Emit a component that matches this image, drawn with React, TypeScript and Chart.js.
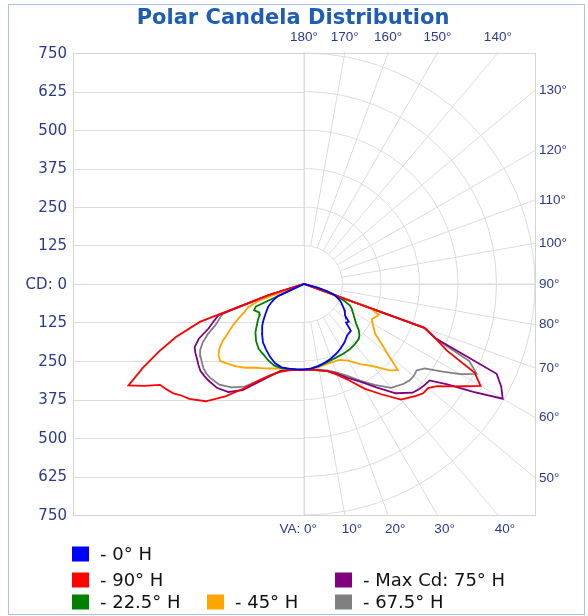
import React, { useEffect, useRef } from 'react';
import { Chart, registerables } from 'chart.js';

Chart.register(...registerables);

// Vertical angles (degrees from nadir) at which candela values are read
const VA_ANGLES = [0, 5, 10, 15, 20, 25, 30, 35, 40, 45, 47.5, 50, 52.5, 55, 57.5, 60, 62.5, 65, 67.5, 70, 72.5, 75, 77.5];

// Candela values – left half and right half of each plane
const H0_LEFT = [278, 278, 279, 280, 274, 261, 246, 232, 212, 192, 180, 168, 157, 147, 138, 125, 110, 95, 0, 0, 0, 0, 0];
const H0_RIGHT = [278, 275, 270, 264, 257, 249, 240, 230, 218, 215, 185, 190, 168, 162, 155, 146, 138, 130, 118, 105, 78, 45, 0];
const H90_LEFT = [278, 280, 285, 295, 315, 345, 392, 445, 497, 527, 537, 553, 562, 571, 616, 658, 590, 520, 450, 360, 120, 0, 0];
const H90_RIGHT = [278, 280, 285, 293, 313, 345, 392, 437, 490, 514, 525, 526, 545, 580, 618, 662, 625, 512, 462, 416, 0, 0, 0];
const H22_LEFT = [278, 279, 281, 283, 282, 274, 264, 257, 242, 223, 210, 198, 188, 175, 172, 178, 183, 172, 0, 0, 0, 0, 0];
const H22_RIGHT = [278, 276, 272, 266, 262, 260, 260, 259, 256, 252, 244, 232, 214, 202, 192, 183, 175, 164, 140, 113, 80, 45, 0];
const H45_LEFT = [278, 279, 281, 284, 292, 302, 314, 332, 348, 362, 369, 362, 347, 322, 290, 265, 238, 212, 196, 150, 0, 0, 0];
const H45_RIGHT = [278, 277, 274, 270, 270, 272, 287, 318, 348, 398, 413, 356, 316, 282, 269, 257, 248, 255, 263, 230, 0, 0, 0];
const H67_LEFT = [278, 279, 283, 292, 315, 346, 385, 410, 427, 431, 430, 426, 418, 410, 400, 380, 352, 318, 298, 280, 115, 0, 0];
const H67_RIGHT = [278, 279, 283, 290, 305, 328, 362, 400, 440, 458, 464, 465, 461, 478, 528, 585, 632, 592, 462, 416, 0, 0, 0];
const H75_LEFT = [278, 279, 283, 292, 318, 352, 398, 428, 440, 441, 440, 439, 432, 424, 418, 410, 385, 342, 318, 295, 120, 0, 0];
const H75_RIGHT = [278, 280, 285, 293, 310, 336, 366, 410, 463, 499, 506, 511, 514, 568, 652, 745, 722, 690, 465, 416, 0, 0, 0];

const SERIES_LABELS = ['- 0° H', '- 90° H', '- 22.5° H', '- 45° H', '- Max Cd: 75° H', '- 67.5° H'];
const SERIES_COLORS = ['#0000ff', '#ff0000', '#008000', '#ffa500', '#800080', '#808080'];
const SERIES_LEFT = [H0_LEFT, H90_LEFT, H22_LEFT, H45_LEFT, H75_LEFT, H67_LEFT];
const SERIES_RIGHT = [H0_RIGHT, H90_RIGHT, H22_RIGHT, H45_RIGHT, H75_RIGHT, H67_RIGHT];

// Grid / axis values
const RADII = [125, 250, 375, 500, 625, 750];
const Y_TICKS = [750, 625, 500, 375, 250, 125, 0, -125, -250, -375, -500, -625, -750];
const RADIAL_ANGLES = [0, 10, 20, 30, 40, 50, 60, 70, 80, 90, 100, 110, 120, 130, 140, 150, 160, 170, 180];
const TITLE = 'Polar Candela Distribution';

const GRID_COLOR = '#dcdcdc';
const LABEL_COLOR = '#2b3a8e';

function toPoints(left: number[], right: number[]) {
  const pts: { x: number; y: number }[] = [];
  for (let i = 0; i < VA_ANGLES.length; i++) {
    const a = (VA_ANGLES[i] * Math.PI) / 180;
    pts.push({ x: -left[i] * Math.sin(a), y: -left[i] * Math.cos(a) });
  }
  for (let i = VA_ANGLES.length - 1; i >= 0; i--) {
    const a = (VA_ANGLES[i] * Math.PI) / 180;
    pts.push({ x: right[i] * Math.sin(a), y: -right[i] * Math.cos(a) });
  }
  return pts;
}

function edgeHit(chart: any, va: number) {
  const a = chart.chartArea;
  const cx = chart.scales.x.getPixelForValue(0);
  const cy = chart.scales.y.getPixelForValue(0);
  const r = (va * Math.PI) / 180;
  const dx = Math.sin(r);
  const dy = Math.cos(r);
  let t = Infinity;
  let side = '';
  if (dx > 1e-9) {
    const tt = (a.right - cx) / dx;
    if (tt < t) { t = tt; side = 'right'; }
  }
  if (dy > 1e-9) {
    const tt = (a.bottom - cy) / dy;
    if (tt < t - 1e-6) { t = tt; side = 'bottom'; }
  }
  if (dy < -1e-9) {
    const tt = (a.top - cy) / dy;
    if (tt < t - 1e-6) { t = tt; side = 'top'; }
  }
  return { x: cx + t * dx, y: cy + t * dy, side, cx, cy };
}

const polarGrid = {
  id: 'polarGrid',
  beforeDatasetsDraw(chart: any) {
    const { ctx, chartArea: a, scales } = chart;
    const xs = scales.x;
    const ys = scales.y;
    const cx = xs.getPixelForValue(0);
    const cy = ys.getPixelForValue(0);
    const ppu = (xs.getPixelForValue(RADII[0]) - cx) / RADII[0];
    ctx.save();
    ctx.beginPath();
    ctx.rect(a.left - 1, a.top - 1, a.right - a.left + 2, a.bottom - a.top + 2);
    ctx.clip();
    ctx.strokeStyle = GRID_COLOR;
    ctx.lineWidth = 1;
    for (const r of RADII) {
      for (const s of [1, -1]) {
        const yy = Math.round(ys.getPixelForValue(s * r)) + 0.5;
        ctx.beginPath();
        ctx.moveTo(a.left, yy);
        ctx.lineTo(cx, yy);
        ctx.stroke();
      }
    }
    for (const r of RADII) {
      ctx.beginPath();
      ctx.arc(cx, cy, r * ppu, -Math.PI / 2, Math.PI / 2);
      ctx.stroke();
    }
    const inner = RADII[0] * ppu;
    const far = 2000;
    for (const va of RADIAL_ANGLES) {
      const rr = (va * Math.PI) / 180;
      const dx = Math.sin(rr);
      const dy = Math.cos(rr);
      ctx.beginPath();
      ctx.moveTo(cx + dx * inner, cy + dy * inner);
      ctx.lineTo(cx + dx * far, cy + dy * far);
      ctx.stroke();
    }
    const vx = Math.round(cx) + 0.5;
    const hy = Math.round(cy) + 0.5;
    ctx.beginPath();
    ctx.moveTo(vx, a.top);
    ctx.lineTo(vx, a.bottom);
    ctx.moveTo(a.left, hy);
    ctx.lineTo(a.right, hy);
    ctx.stroke();
    ctx.restore();
    ctx.save();
    ctx.strokeStyle = '#d4d4d4';
    ctx.lineWidth = 1;
    ctx.strokeRect(Math.round(a.left) + 0.5, Math.round(a.top) + 0.5, Math.round(a.right - a.left), Math.round(a.bottom - a.top));
    ctx.restore();
  },
  afterDraw(chart: any) {
    const { ctx, chartArea: a, scales } = chart;
    const ys = scales.y;
    ctx.save();
    ctx.strokeStyle = '#a9c3e6';
    ctx.lineWidth = 1;
    ctx.strokeRect(8.5, 4.5, 576, 610);

    ctx.fillStyle = '#1f5db3';
    ctx.font = 'bold 21px "DejaVu Sans", sans-serif';
    ctx.textAlign = 'center';
    ctx.textBaseline = 'alphabetic';
    ctx.fillText(TITLE, 293, 24);

    ctx.fillStyle = LABEL_COLOR;
    ctx.font = '15px "DejaVu Sans", sans-serif';
    ctx.textAlign = 'right';
    ctx.textBaseline = 'middle';
    for (const v of Y_TICKS) {
      const label = v === 0 ? 'CD: 0' : String(Math.abs(v));
      ctx.fillText(label, a.left - 6, ys.getPixelForValue(v) + 1);
    }

    ctx.font = '13.5px "Liberation Sans", Arial, sans-serif';
    for (const va of RADIAL_ANGLES) {
      const h = edgeHit(chart, va);
      const txt = va + '°';
      if (h.side === 'top' || va === 180) {
        ctx.textAlign = 'center';
        ctx.textBaseline = 'middle';
        ctx.fillText(txt, va === 180 ? h.cx : h.x, a.top - 16);
      } else if (h.side === 'right') {
        ctx.textAlign = 'left';
        ctx.textBaseline = 'middle';
        ctx.fillText(txt, a.right + 4, h.y);
      } else {
        ctx.textBaseline = 'middle';
        if (va === 0) {
          ctx.textAlign = 'right';
          ctx.fillText('VA: ' + txt, h.cx + 13, a.bottom + 14);
        } else {
          ctx.textAlign = 'left';
          ctx.fillText(txt, h.x - 3, a.bottom + 14);
        }
      }
    }

    const cols = [72, 207, 335];
    const rows = [554, 580, 602];
    const slots = [
      [0, 0],
      [0, 1],
      [0, 2],
      [1, 2],
      [2, 1],
      [2, 2],
    ];
    ctx.font = '18px "DejaVu Sans", sans-serif';
    ctx.textAlign = 'left';
    ctx.textBaseline = 'middle';
    chart.data.datasets.forEach((ds: any, i: number) => {
      const [c, r] = slots[i];
      const x0 = cols[c];
      const y0 = rows[r];
      ctx.fillStyle = ds.borderColor;
      ctx.fillRect(x0, y0 - 7.5, 17, 15);
      ctx.fillStyle = '#111';
      ctx.fillText(ds.label, x0 + 28, y0 + 1);
    });
    ctx.restore();
  },
};

export default function App() {
  const ref = useRef<HTMLCanvasElement | null>(null);
  useEffect(() => {
    if (!ref.current) return;
    const datasets = SERIES_LABELS.map((label, i) => ({
      label,
      data: toPoints(SERIES_LEFT[i], SERIES_RIGHT[i]),
      borderColor: SERIES_COLORS[i],
      backgroundColor: SERIES_COLORS[i],
      borderWidth: 1.8,
      pointRadius: 0,
      showLine: true,
      fill: false,
      tension: 0,
    }));
    const chart = new Chart(ref.current, {
      type: 'scatter',
      data: { datasets },
      options: {
        animation: false,
        responsive: false,
        layout: { padding: { left: 73, top: 53, right: 53, bottom: 101 } },
        scales: {
          x: { type: 'linear', min: -750, max: 750, display: false },
          y: { type: 'linear', min: -750, max: 750, display: false },
        },
        plugins: {
          legend: { display: false },
          tooltip: { enabled: false },
          title: { display: false },
        },
      },
      plugins: [polarGrid],
    } as any);
    return () => chart.destroy();
  }, []);
  return (
    <div style={{ position: 'absolute', left: 0, top: 0, width: 588, height: 616, background: '#fff' }}>
      <canvas ref={ref} width={588} height={616} style={{ width: 588, height: 616, display: 'block' }} />
    </div>
  );
}
